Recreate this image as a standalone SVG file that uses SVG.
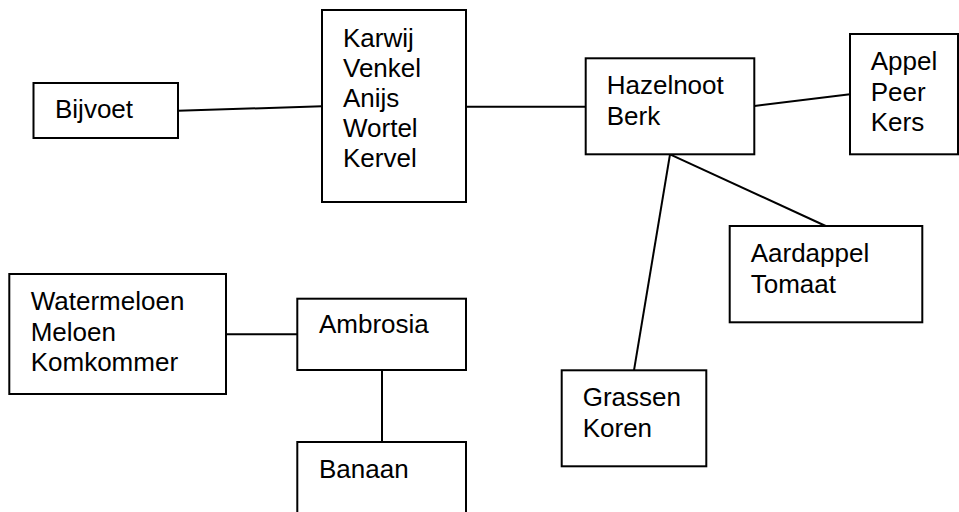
<svg xmlns="http://www.w3.org/2000/svg" width="959" height="512" viewBox="0 0 959 512">
<style>
rect{fill:#fff;stroke:#000;stroke-width:2}
line{stroke:#000;stroke-width:2}
text{font-family:"Liberation Sans",Arial,sans-serif;font-size:26px;fill:#000}
</style>
<rect x="0" y="0" width="959" height="512" style="stroke:none"/>
<g id="connectors">
<line x1="178" y1="110.7" x2="322" y2="106.3"/>
<line x1="466" y1="106.7" x2="585.7" y2="106.7"/>
<line x1="754.3" y1="106" x2="850" y2="94.3"/>
<line x1="670" y1="154.3" x2="825.7" y2="226"/>
<line x1="670" y1="154.3" x2="634" y2="370.3"/>
<line x1="226" y1="334.3" x2="297.3" y2="334.3"/>
<line x1="382" y1="370" x2="382" y2="442"/>
</g>
<g id="bijvoet">
<rect x="33.5" y="83" width="144.5" height="55"/>
<text x="55" y="118">Bijvoet</text>
</g>
<g id="karwij">
<rect x="322" y="10" width="144" height="192"/>
<text x="343" y="47.3">Karwij</text>
<text x="343" y="77.3">Venkel</text>
<text x="343" y="107.3">Anijs</text>
<text x="343" y="137.3">Wortel</text>
<text x="343" y="167.3">Kervel</text>
</g>
<g id="hazelnoot">
<rect x="585.7" y="58.3" width="168.6" height="96"/>
<text x="606.7" y="94">Hazelnoot</text>
<text x="606.7" y="125">Berk</text>
</g>
<g id="appel">
<rect x="850" y="34" width="108" height="120.3"/>
<text x="870.7" y="70">Appel</text>
<text x="870.7" y="101">Peer</text>
<text x="870.7" y="130.5">Kers</text>
</g>
<g id="aardappel">
<rect x="729.7" y="226" width="192.6" height="96.3"/>
<text x="750.7" y="261.7">Aardappel</text>
<text x="750.7" y="292.7">Tomaat</text>
</g>
<g id="grassen">
<rect x="561.7" y="370.3" width="144.6" height="96"/>
<text x="582.7" y="406">Grassen</text>
<text x="582.7" y="436.7">Koren</text>
</g>
<g id="watermeloen">
<rect x="9.3" y="274" width="216.7" height="120"/>
<text x="30.7" y="310">Watermeloen</text>
<text x="30.7" y="340.7">Meloen</text>
<text x="30.7" y="371">Komkommer</text>
</g>
<g id="ambrosia">
<rect x="297.3" y="298.7" width="168.7" height="71.3"/>
<text x="319" y="333.3">Ambrosia</text>
</g>
<g id="banaan">
<rect x="297.3" y="442" width="168.7" height="90"/>
<text x="319" y="477.7">Banaan</text>
</g>
</svg>
